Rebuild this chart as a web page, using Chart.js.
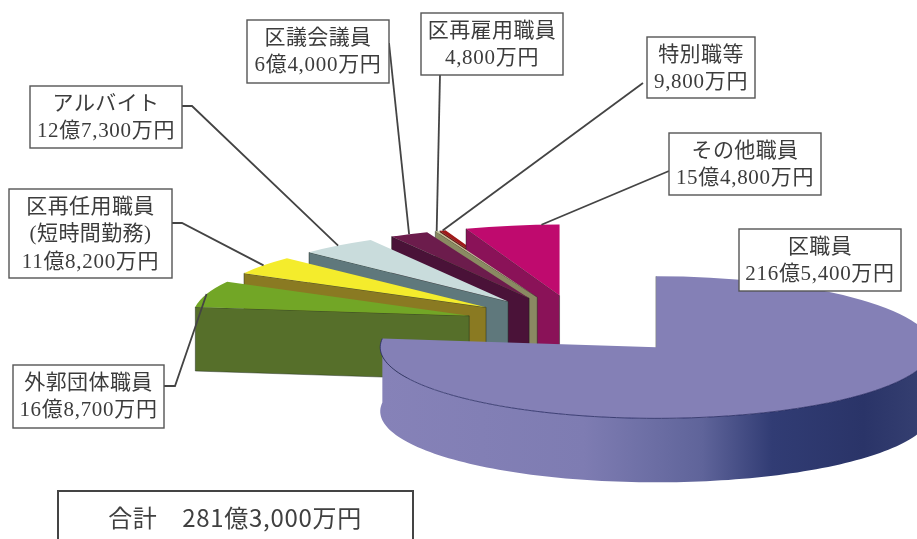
<!DOCTYPE html>
<html lang="ja">
<head>
<meta charset="utf-8">
<title>人件費の内訳</title>
<script src="https://cdn.jsdelivr.net/npm/chart.js@4/dist/chart.umd.min.js"></script>
<style>
  html, body { margin: 0; padding: 0; background: #fff; }
  canvas { display: block; }
</style>
</head>
<body>
<canvas id="grafik" width="917" height="539"></canvas>
<script>
// nilai dalam satuan 億円, searah jarum jam dari atas
const categories = ["区職員", "外郭団体職員", "区再任用職員(短時間勤務)", "アルバイト", "区議会議員", "区再雇用職員", "特別職等", "その他職員"];
const values = [216.54, 16.87, 11.82, 12.73, 6.40, 0.48, 0.98, 15.48];
const amountLabels = ["216億5,400万円", "16億8,700万円", "11億8,200万円", "12億7,300万円", "6億4,000万円", "4,800万円", "9,800万円", "15億4,800万円"];
const nameLines = [["区職員"], ["外郭団体職員"], ["区再任用職員", "(短時間勤務)"], ["アルバイト"], ["区議会議員"], ["区再雇用職員"], ["特別職等"], ["その他職員"]];
const totalLabel = "合計　281億3,000万円";

const topColors = ["#8480b6", "#72a626", "#f4ec2c", "#c9dcdc", "#6c1c4c", "#c2c29a", "#a01a1a", "#bf0a6e"];
const wallColors = ["#8682b8", "#566f2a", "#8a7a22", "#5f787c", "#4a1238", "#8a8a62", "#701212", "#8a1258"];
const wallStops = [[0, "#8682b8"], [0.38, "#7e7cb2"], [0.6, "#5f649a"], [0.73, "#313c74"], [0.9, "#2a3468"], [1, "#343e70"]];

// urutan gambar: yang paling belakang dulu
const drawOrder = [6, 7, 5, 4, 3, 2, 1, 0];

// kotak label: x, y, lebar, tinggi
const boxes = [
  [739, 229, 162, 62], [13, 365, 151, 63], [9, 189, 163, 89], [30, 86, 152, 62],
  [247, 20, 142, 63], [421, 13, 142, 62], [647, 37, 108, 61], [669, 133, 152, 62]
];
// titik awal garis penunjuk (dari kotak), lalu berakhir di tepi irisan
const leaderStarts = [
  null,
  [[164, 386], [175, 386]],
  [[172, 223], [182, 223]],
  [[182, 106], [192, 106]],
  [[389, 43]],
  [[440, 75]],
  [[643, 83]],
  [[669, 171]]
];
const leaderAt = [0.5, 0.5, 0.5, 0.5, 0.5, 0.5, 0.5, 0.81];

const RADIUS = 276;
const SQUASH = 71 / 276;   // kemiringan pie
const DEPTH = 64;          // tebal pie
const EXPLODE = 0.42 * RADIUS;

const INK = "#3c3c3c";
const FONT = '21px "Liberation Serif", "Noto Sans CJK JP", serif';

function sliceGeom(arc) {
  const mid = (arc.startAngle + arc.endAngle) / 2;
  const ox = arc.x + Math.cos(mid) * EXPLODE;
  const oy = arc.y + Math.sin(mid) * EXPLODE * SQUASH;
  const rim = a => [ox + Math.cos(a) * arc.outerRadius, oy + Math.sin(a) * arc.outerRadius * SQUASH];
  return { mid, ox, oy, rim };
}

function drawWalls(ctx, arc, i) {
  const g = sliceGeom(arc);

  // sisi potongan
  const p = g.rim(arc.startAngle);
  ctx.beginPath();
  ctx.moveTo(g.ox, g.oy);
  ctx.lineTo(p[0], p[1]);
  ctx.lineTo(p[0], p[1] + DEPTH);
  ctx.lineTo(g.ox, g.oy + DEPTH);
  ctx.closePath();
  ctx.fillStyle = wallColors[i];
  ctx.fill();
  ctx.lineWidth = 1;
  ctx.strokeStyle = "rgba(25,35,25,0.45)";
  ctx.stroke();

  // dinding lengkung, hanya yang menghadap ke depan
  if (arc.startAngle < Math.PI) {
    const a0 = Math.max(arc.startAngle, 0);
    const a1 = arc.endAngle;
    const steps = 120;
    const grad = ctx.createLinearGradient(380, 0, 917, 0);
    wallStops.forEach(s => grad.addColorStop(s[0], s[1]));
    ctx.beginPath();
    for (let n = 0; n <= steps; n++) {
      const q = g.rim(a0 + (a1 - a0) * n / steps);
      ctx.lineTo(q[0], q[1]);
    }
    for (let n = steps; n >= 0; n--) {
      const q = g.rim(a0 + (a1 - a0) * n / steps);
      ctx.lineTo(q[0], q[1] + DEPTH);
    }
    ctx.closePath();
    ctx.fillStyle = grad;
    ctx.fill();
  }
}

function drawTop(ctx, arc) {
  const g = sliceGeom(arc);
  ctx.save();
  ctx.translate(g.ox, g.oy);
  ctx.scale(1, SQUASH);
  ctx.translate(-arc.x, -arc.y);
  arc.draw(ctx);
  ctx.restore();
}

function drawRimLine(ctx, arc) {
  if (arc.startAngle >= Math.PI) return;
  const g = sliceGeom(arc);
  const a0 = Math.max(arc.startAngle, 0);
  ctx.beginPath();
  for (let n = 0; n <= 120; n++) {
    const q = g.rim(a0 + (arc.endAngle - a0) * n / 120);
    ctx.lineTo(q[0], q[1]);
  }
  ctx.lineWidth = 1;
  ctx.strokeStyle = "rgba(30,34,90,0.75)";
  ctx.stroke();
}

const pie3d = {
  id: "pie3d",
  beforeDatasetDraw(chart, args) {
    const ctx = chart.ctx;
    const arcs = args.meta.data;
    drawOrder.forEach(i => {
      drawWalls(ctx, arcs[i], i);
      drawTop(ctx, arcs[i]);
      drawRimLine(ctx, arcs[i]);
    });
    return false;
  },
  afterDraw(chart) {
    const ctx = chart.ctx;
    const arcs = chart.getDatasetMeta(0).data;

    // garis penunjuk
    ctx.save();
    ctx.strokeStyle = "#444";
    ctx.lineWidth = 1.8;
    leaderStarts.forEach((pts, i) => {
      if (!pts) return;
      const arc = arcs[i];
      const end = sliceGeom(arc).rim(arc.startAngle + (arc.endAngle - arc.startAngle) * leaderAt[i]);
      ctx.beginPath();
      pts.forEach(p => ctx.lineTo(p[0], p[1]));
      ctx.lineTo(end[0], end[1]);
      ctx.stroke();
    });

    // kotak label
    ctx.textAlign = "center";
    ctx.textBaseline = "middle";
    boxes.forEach((b, i) => {
      ctx.fillStyle = "#fff";
      ctx.fillRect(b[0], b[1], b[2], b[3]);
      ctx.strokeStyle = "#555";
      ctx.lineWidth = 1.4;
      ctx.strokeRect(b[0], b[1], b[2], b[3]);
      ctx.fillStyle = INK;
      ctx.font = FONT;
      nameLines[i].forEach((t, n) => {
        ctx.letterSpacing = "0.4px";
        ctx.fillText(t, b[0] + b[2] / 2, b[1] + 18 + n * 27.5);
      });
      // baris jumlah sedikit lebih renggang
      ctx.letterSpacing = "0.7px";
      ctx.fillText(amountLabels[i], b[0] + b[2] / 2, b[1] + 18 + nameLines[i].length * 27.5);
    });

    // kotak total
    ctx.fillStyle = "#fff";
    ctx.fillRect(58, 491, 355, 60);
    ctx.strokeStyle = "#444";
    ctx.lineWidth = 2;
    ctx.strokeRect(58, 491, 355, 60);
    ctx.fillStyle = "#404040";
    ctx.font = '24px "Noto Sans CJK JP", sans-serif';
    ctx.letterSpacing = "0.7px";
    ctx.fillText(totalLabel, 235, 518);
    ctx.restore();
  }
};

new Chart(document.getElementById("grafik"), {
  type: "pie",
  data: {
    labels: categories,
    datasets: [{
      data: values,
      backgroundColor: topColors,
      borderWidth: 0
    }]
  },
  options: {
    responsive: false,
    animation: false,
    radius: RADIUS,
    // pusat pie di (579.5, 325)
    layout: { padding: { left: 242, right: 0, top: 111, bottom: 0 } },
    plugins: {
      legend: { display: false },
      tooltip: { enabled: false }
    }
  },
  plugins: [pie3d]
});
</script>
</body>
</html>
